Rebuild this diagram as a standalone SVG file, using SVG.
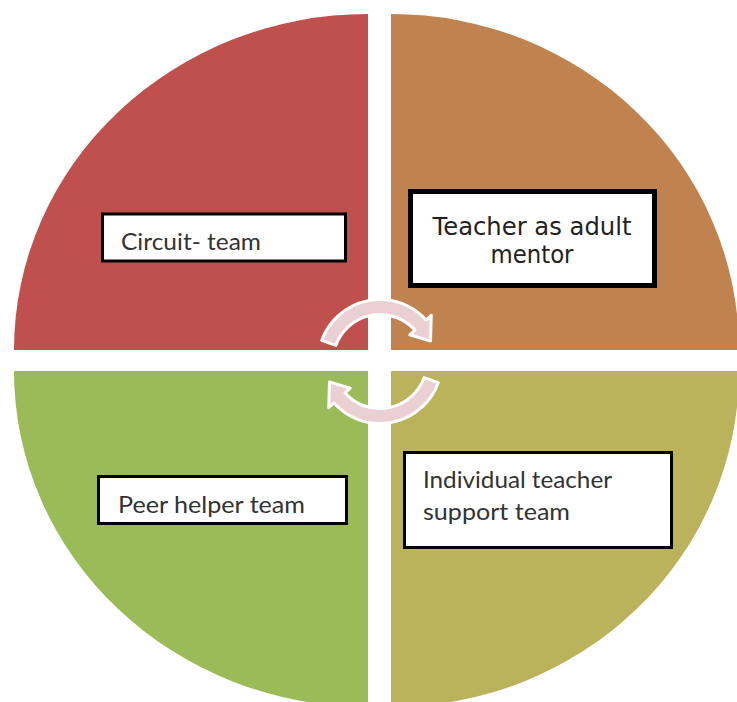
<svg xmlns="http://www.w3.org/2000/svg" width="737" height="702" viewBox="0 0 737 702">
  <defs>
    <style>
      .box { fill: #FFFFFF; stroke: #000000; stroke-width: 3; }
      .lbl { font-family: Lato, "Liberation Sans", sans-serif; font-size: 23px; fill: #333333; }
      .lbl2 { font-family: "DejaVu Sans", Verdana, sans-serif; font-size: 25px; fill: #222222; text-anchor: middle; }
      .cyc { fill: #EAD0D3; stroke: #FFFFFF; stroke-width: 3; stroke-linejoin: round; }
    </style>
  </defs>
  <rect x="0" y="0" width="737" height="702" fill="#FFFFFF"/>

  <g id="quadrant-circuit">
    <path d="M 368 350 L 14 350 A 354 336 0 0 1 368 14 Z" fill="#C0504D"/>
    <rect class="box" x="102.5" y="214" width="243" height="47"/>
    <text class="lbl" x="121" y="250" textLength="140" lengthAdjust="spacingAndGlyphs">Circuit- team</text>
  </g>

  <g id="quadrant-mentor">
    <path d="M 391 350 L 391 14 A 348 336 0 0 1 739 350 Z" fill="#C08350"/>
    <rect x="410.5" y="191.5" width="244" height="94" fill="#FFFFFF" stroke="#000000" stroke-width="5"/>
    <text class="lbl2" x="532" y="235" textLength="199" lengthAdjust="spacingAndGlyphs">Teacher as adult</text>
    <text class="lbl2" x="532" y="263" textLength="83" lengthAdjust="spacingAndGlyphs">mentor</text>
  </g>

  <g id="quadrant-peer">
    <path d="M 368 371 L 368 707 A 354 336 0 0 1 14 371 Z" fill="#9BBB59"/>
    <rect class="box" x="98.5" y="476.5" width="248" height="47"/>
    <text class="lbl" x="118" y="513" textLength="187" lengthAdjust="spacingAndGlyphs">Peer helper team</text>
  </g>

  <g id="quadrant-individual">
    <path d="M 391 371 L 739 371 A 348 336 0 0 1 391 707 Z" fill="#BBB25C"/>
    <rect class="box" x="404.5" y="452.5" width="267" height="95"/>
    <text class="lbl" x="423" y="488" textLength="189" lengthAdjust="spacingAndGlyphs">Individual teacher</text>
    <text class="lbl" x="423" y="520" textLength="147" lengthAdjust="spacingAndGlyphs">support team</text>
  </g>

  <g id="connectors">
    <path class="cyc" d="M 321.74 340.30 A 62 62 0 0 1 426.07 320.02 L 431.27 315.33 L 430.53 341.08 L 409.72 334.74 L 414.93 330.05 A 47 47 0 0 0 335.83 345.43 Z"/>
    <path class="cyc" transform="rotate(180 380 361.5)" d="M 321.74 340.30 A 62 62 0 0 1 426.07 320.02 L 431.27 315.33 L 430.53 341.08 L 409.72 334.74 L 414.93 330.05 A 47 47 0 0 0 335.83 345.43 Z"/>
  </g>
</svg>
